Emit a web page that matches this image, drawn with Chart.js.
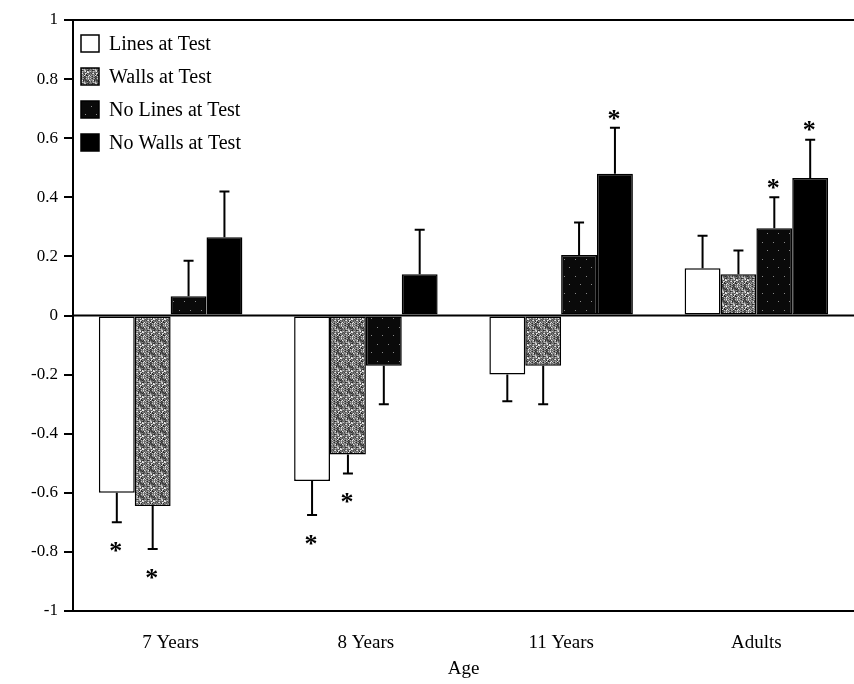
<!DOCTYPE html>
<html>
<head>
<meta charset="utf-8">
<script src="https://cdn.jsdelivr.net/npm/chart.js@4.4.1/dist/chart.umd.min.js"></script>
<style>
  body { margin: 0; background: #fff; }
  #canvas { display: block; }
</style>
</head>
<body>
<canvas id="canvas" width="854" height="684"></canvas>
<script>
"use strict";

// Chart values
const ageGroups = ["7 Years", "8 Years", "11 Years", "Adults"];
const seriesNames = ["Lines at Test", "Walls at Test", "No Lines at Test", "No Walls at Test"];

const linesAtTest = [-0.60, -0.56, -0.20, 0.16];
const wallsAtTest = [-0.645, -0.47, -0.17, 0.14];
const noLinesAtTest = [0.065, -0.17, 0.205, 0.295];
const noWallsAtTest = [0.265, 0.14, 0.48, 0.465];

// error bar lengths (drawn away from zero)
const linesErr = [0.10, 0.115, 0.09, 0.11];
const wallsErr = [0.145, 0.065, 0.13, 0.08];
const noLinesErr = [0.12, 0.13, 0.11, 0.105];
const noWallsErr = [0.155, 0.15, 0.155, 0.13];

// significance stars (1 = star)
const linesStar = [1, 1, 0, 0];
const wallsStar = [1, 1, 0, 0];
const noLinesStar = [0, 0, 0, 1];
const noWallsStar = [0, 0, 1, 1];

const yTicks = [1, 0.8, 0.6, 0.4, 0.2, 0, -0.2, -0.4, -0.6, -0.8, -1];

const FONT = "'Liberation Serif', 'DejaVu Serif', serif";

// grainy textures for the printed look
function makePattern(w, h, shadeFor) {
    let tile = document.createElement("canvas");
    tile.width = w;
    tile.height = h;
    let t = tile.getContext("2d");
    for (let i = 0; i < w; i++) {
        for (let j = 0; j < h; j++) {
            t.fillStyle = shadeFor(i, j);
            t.fillRect(i, j, 1, 1);
        }
    }
    return t.createPattern(tile, "repeat");
}

const grayShades = ["#e8e8e8", "#5a5a5a", "#7c7c7c", "#2a2a2a", "#a0a0a0", "#6a6a6a", "#404040", "#8e8e8e", "#525252", "#c4c4c4", "#747474"];
const wallsFill = makePattern(11, 13, (i, j) => grayShades[(i * i * 5 + j * j * 3 + i * j * 7 + j) % 11]);
const noLinesFill = makePattern(11, 17, (i, j) => ((i === 3 && j === 4) || (i === 8 && j === 12)) ? "#8a8a8a" : "#0a0a0a");

const fills = ["#ffffff", wallsFill, noLinesFill, "#000000"];
const errors = [linesErr, wallsErr, noLinesErr, noWallsErr];
const stars = [linesStar, wallsStar, noLinesStar, noWallsStar];

const extrasPlugin = {
    id: "extras",
    afterDatasetsDraw(chart) {
        let ctx = chart.ctx;
        let area = chart.chartArea;
        let y = chart.scales.y;
        ctx.save();

        // zero line and top frame
        ctx.strokeStyle = "#000";
        ctx.lineWidth = 2;
        let y0 = y.getPixelForValue(0);
        ctx.beginPath();
        ctx.moveTo(area.left, y0);
        ctx.lineTo(area.right, y0);
        ctx.moveTo(area.left, area.top);
        ctx.lineTo(area.right, area.top);
        ctx.stroke();

        // error bars and stars
        chart.data.datasets.forEach((ds, d) => {
            let meta = chart.getDatasetMeta(d);
            meta.data.forEach((bar, i) => {
                let v = ds.data[i];
                let sign = v < 0 ? -1 : 1;
                let yEnd = y.getPixelForValue(v + sign * errors[d][i]);
                let yBar = y.getPixelForValue(v);
                ctx.lineWidth = 2;
                ctx.beginPath();
                ctx.moveTo(bar.x, yBar);
                ctx.lineTo(bar.x, yEnd);
                ctx.moveTo(bar.x - 5, yEnd);
                ctx.lineTo(bar.x + 5, yEnd);
                ctx.stroke();

                if (stars[d][i]) {
                    ctx.fillStyle = "#000";
                    ctx.font = "bold 26px " + FONT;
                    ctx.textAlign = "center";
                    ctx.textBaseline = "middle";
                    let yStar = sign < 0 ? yEnd + 30 : yEnd - 8;
                    ctx.fillText("*", bar.x - 1, yStar);
                }
            });
        });

        // legend inside the plot, top left
        ctx.font = "20px " + FONT;
        ctx.textAlign = "left";
        ctx.textBaseline = "middle";
        seriesNames.forEach((name, k) => {
            let cy = area.top + 24 + k * 33;
            ctx.fillStyle = fills[k];
            ctx.fillRect(area.left + 8, cy - 9, 18, 17);
            ctx.lineWidth = 1.5;
            ctx.strokeStyle = "#000";
            ctx.strokeRect(area.left + 8, cy - 9, 18, 17);
            ctx.fillStyle = "#000";
            ctx.fillText(name, area.left + 36, cy + 1);
        });
        ctx.restore();
    }
};

const chartDatasets = seriesNames.map((name, k) => ({
    label: name,
    data: [linesAtTest, wallsAtTest, noLinesAtTest, noWallsAtTest][k],
    backgroundColor: fills[k],
    borderColor: "#000",
    borderWidth: 1.5,
    borderSkipped: false,
    barPercentage: 1.0,
    categoryPercentage: 0.735
}));

new Chart(document.getElementById("canvas"), {
    type: "bar",
    data: { labels: ageGroups, datasets: chartDatasets },
    options: {
        responsive: false,
        animation: false,
        layout: { padding: { top: 20, right: 0, left: 0, bottom: 0 } },
        plugins: {
            legend: { display: false },
            tooltip: { enabled: false }
        },
        scales: {
            x: {
                grid: { display: false },
                border: { display: true, color: "#000", width: 2 },
                ticks: { color: "#000", font: { family: FONT, size: 19 }, padding: 13 },
                title: { display: true, text: "Age", color: "#000", font: { family: FONT, size: 19 }, padding: { top: 10 } },
                afterFit(scale) { scale.height = 73; }
            },
            y: {
                min: -1,
                max: 1,
                afterBuildTicks(scale) { scale.ticks = yTicks.map(v => ({ value: v })); },
                grid: { drawOnChartArea: false, drawTicks: true, tickLength: 9, color: "#000", lineWidth: 2 },
                border: { display: true, color: "#000", width: 2 },
                ticks: {
                    color: "#000",
                    font: { family: FONT, size: 17 },
                    padding: 6,
                    callback: v => String(v)
                },
                afterFit(scale) { scale.width = 73; }
            }
        }
    },
    plugins: [extrasPlugin]
});
</script>
</body>
</html>
